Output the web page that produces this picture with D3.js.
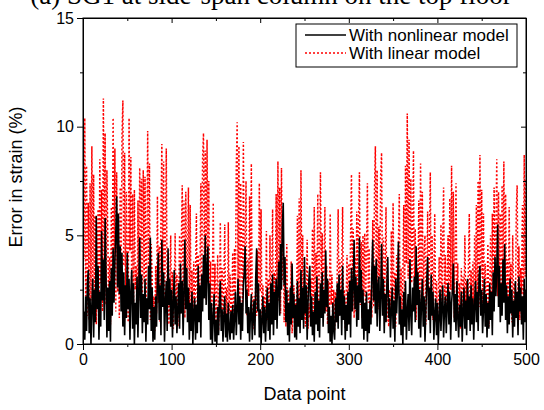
<!DOCTYPE html>
<html><head><meta charset="utf-8">
<script src="https://cdn.jsdelivr.net/npm/d3@7"></script>
<style>body{margin:0;background:#fff}svg{display:block}</style>
</head><body>
<script>
const titleText = "(a) SG1 at side-span column on the top floor";
const seriesNames = ["With nonlinear model", "With linear model"];
const xTicks = [0, 100, 200, 300, 400, 500];
const yTicks = [0, 5, 10, 15];

const nonlinear = [
0.1,1.5,0.2,2.2,0.6,2.8,3.4,0.5,2.1,0.0,
1.8,3.0,0.3,2.5,1.0,5.9,1.6,3.6,0.2,2.4,
0.8,5.2,2.0,3.9,1.1,5.8,3.1,0.3,2.6,0.6,
2.9,0.1,3.5,1.3,4.4,1.9,3.8,5.1,6.8,2.6,
6.0,2.3,4.5,1.5,4.2,0.8,3.3,0.4,2.7,1.2,
4.2,1.6,3.0,0.2,2.4,3.4,0.7,2.8,0.0,1.9,
0.9,3.1,0.3,2.5,4.9,1.2,3.2,0.5,2.3,1.0,
3.0,0.1,2.1,0.9,3.6,1.6,4.9,0.6,2.6,0.1,
1.7,0.2,2.2,0.8,3.0,4.2,1.1,2.7,0.4,4.8,
1.7,3.3,0.1,1.9,2.9,0.6,4.4,1.8,3.0,0.8,
2.5,0.3,1.9,3.4,0.9,2.2,0.5,1.6,2.8,0.7,
3.7,1.4,2.9,0.4,2.4,4.8,1.6,3.5,1.0,2.6,
0.2,1.9,0.6,2.4,0.0,1.5,2.1,0.2,1.8,0.5,
3.6,1.0,2.7,0.3,3.2,1.5,4.1,2.1,5.0,1.8,
3.4,4.5,1.1,2.8,0.2,1.9,0.0,1.2,2.3,0.1,
1.1,0.0,1.7,0.4,2.0,2.9,0.6,1.6,0.1,1.3,
2.2,0.3,1.4,0.1,1.9,0.7,0.2,1.5,0.5,1.8,
0.2,1.2,2.4,0.4,1.6,3.0,0.9,2.2,0.2,1.9,
0.6,2.7,3.3,4.5,1.4,2.5,0.5,1.7,0.1,1.4,
2.3,0.2,1.2,2.0,0.4,3.1,4.4,1.5,2.8,0.3,
1.6,0.0,1.1,2.2,0.5,1.7,0.1,1.4,2.6,0.6,
1.9,0.2,2.8,0.9,3.2,0.4,2.4,1.1,3.0,0.7,
2.6,3.8,1.3,4.6,2.5,5.4,6.5,2.7,4.0,1.0,
2.5,0.4,1.9,0.1,2.6,0.9,3.7,1.2,2.3,0.3,
1.8,0.2,2.9,0.8,2.1,0.5,3.4,1.1,2.6,0.7,
4.0,1.4,2.7,0.2,1.9,3.0,3.6,0.8,2.2,0.4,
1.5,0.1,2.4,0.9,3.1,0.6,2.0,0.3,2.8,1.2,
3.3,0.8,2.5,1.4,4.3,1.7,3.0,0.5,1.7,0.1,
1.3,0.0,1.9,0.6,0.2,2.1,1.0,2.8,0.7,3.2,
1.3,2.5,0.4,3.6,1.1,2.2,0.2,1.8,0.6,2.4,
0.9,2.9,0.3,3.5,1.5,2.6,4.8,1.6,3.1,0.8,
2.7,1.1,4.9,1.9,3.4,0.7,2.5,0.2,1.9,0.6,
2.4,0.1,1.6,0.5,2.0,0.9,3.3,4.8,2.0,3.6,
1.4,3.9,0.8,2.7,3.1,0.6,2.2,4.6,1.3,3.0,
0.5,2.3,1.0,2.8,4.0,1.2,2.1,0.3,1.5,2.6,
0.7,2.0,0.1,3.0,1.4,2.6,4.7,0.9,2.2,0.4,
1.6,0.0,2.4,0.8,2.9,0.2,1.5,2.3,0.6,3.9,
1.3,0.4,2.6,1.5,3.1,1.0,4.5,1.8,3.3,0.7,
2.5,0.3,1.8,3.0,0.8,2.2,0.1,1.6,2.9,4.0,
1.1,2.6,0.5,3.2,1.3,2.4,0.2,1.4,2.1,0.4,
1.9,0.0,1.2,2.5,0.6,1.8,2.7,0.3,1.6,2.2,
0.5,1.7,2.8,0.9,2.4,0.2,1.9,2.5,3.7,1.0,
2.3,0.6,2.9,1.2,0.3,1.8,0.8,2.4,0.1,1.5,
2.6,0.7,2.0,0.4,3.0,1.1,2.2,0.6,2.7,0.9,
2.1,0.2,1.8,2.9,1.0,2.4,0.6,3.1,3.6,1.3,
2.5,0.5,1.6,3.0,0.8,2.3,0.3,1.9,0.7,2.8,
1.1,2.4,0.4,3.3,1.5,4.0,2.2,3.4,5.5,1.7,
3.6,1.0,2.8,1.3,3.9,1.9,4.6,1.1,2.7,0.5,
2.2,0.9,3.0,1.4,2.5,0.3,2.0,0.8,2.9,1.2,
2.4,0.4,3.1,1.5,2.6,0.9,2.2,0.2,3.0,1.0,
2.5];

const linear = [
11.5,3.9,10.4,2.2,8.2,1.3,6.5,1.1,7.4,2.0,
9.1,2.6,7.8,1.4,5.9,0.9,3.4,6.2,1.7,8.5,
2.8,7.1,1.5,11.3,3.9,9.7,1.8,8.0,4.9,1.3,
4.0,0.9,6.3,2.0,10.4,3.1,9.0,1.5,7.9,2.4,
4.4,1.2,7.2,2.6,9.6,11.2,3.6,8.8,2.0,7.0,
2.9,1.0,10.4,4.3,8.6,1.9,6.9,1.2,7.1,2.5,
3.6,1.0,6.6,2.0,8.1,3.2,7.6,1.6,8.0,2.8,
7.7,1.3,4.3,9.8,3.0,8.3,1.1,4.6,3.1,0.7,
2.2,0.6,3.6,1.4,6.8,1.9,4.5,1.0,6.1,9.2,
2.9,8.4,1.6,4.7,9.0,2.2,3.6,0.9,2.7,5.0,
1.2,3.3,0.7,2.4,5.1,1.5,3.2,0.8,2.1,5.0,
1.4,4.6,7.3,1.9,6.6,1.2,7.0,2.6,4.0,7.2,
1.6,6.4,1.0,3.4,0.8,3.8,1.4,2.9,6.0,1.7,
4.1,1.0,3.2,7.4,2.0,8.6,9.7,2.7,8.9,2.0,
9.4,3.1,7.5,1.2,3.8,0.8,2.6,6.5,1.4,3.7,
0.9,2.4,4.1,0.6,1.9,5.6,1.2,3.5,0.8,2.9,
5.5,1.0,2.6,0.7,5.6,1.4,3.2,0.6,2.0,4.2,
1.0,4.4,2.0,8.1,10.2,2.8,9.1,1.8,7.4,4.2,
1.5,9.3,3.0,4.5,7.5,1.3,3.9,2.2,6.8,2.5,
8.3,1.6,0.7,2.2,1.0,3.3,1.3,4.3,1.6,7.4,
2.4,6.2,0.9,2.7,1.2,2.2,0.8,5.2,1.1,3.0,
0.9,5.0,1.6,2.8,6.2,1.1,3.3,1.8,6.9,2.4,
8.4,2.0,7.2,1.4,8.1,2.9,4.5,1.0,3.3,0.8,
4.6,1.1,2.5,0.6,1.5,3.8,0.5,1.4,2.7,0.9,
2.1,1.0,5.9,1.7,6.7,1.3,8.0,2.6,5.0,1.1,
3.6,0.8,2.2,4.8,0.7,1.8,1.2,3.0,1.0,5.3,
1.5,6.3,1.2,4.2,2.2,6.9,1.4,4.0,7.9,2.5,
5.1,1.2,3.4,6.3,1.5,3.6,0.9,2.9,1.3,6.0,
1.8,3.2,0.7,2.5,0.6,2.4,1.0,3.5,6.2,1.3,
3.9,1.9,3.1,6.3,1.1,2.5,0.7,1.9,4.1,0.9,
3.7,1.6,4.9,7.8,2.0,5.3,1.2,4.0,1.5,6.1,
2.7,5.5,7.9,1.8,4.7,1.2,5.0,2.2,5.1,1.4,
4.3,7.4,1.9,4.4,0.9,2.5,1.2,5.7,1.7,7.1,
9.1,2.6,8.0,1.6,5.4,3.0,7.8,8.8,2.1,4.9,
1.3,3.6,6.3,1.0,3.0,0.8,2.5,1.2,5.2,1.8,
6.5,1.4,3.3,0.8,4.1,2.1,4.6,6.9,1.2,3.5,
1.6,3.0,6.4,1.4,8.2,3.7,10.6,3.0,9.4,2.2,
7.6,2.8,4.8,8.9,1.6,5.3,1.1,3.5,2.3,6.6,
1.3,8.3,2.5,7.0,1.7,4.3,5.0,0.9,3.1,6.1,
1.8,4.2,7.9,1.4,5.0,1.1,3.3,6.0,1.0,2.9,
0.8,2.1,4.0,1.0,5.5,1.6,4.8,7.2,1.9,4.1,
1.3,2.7,5.0,1.5,6.7,2.5,8.2,2.3,7.0,1.2,
4.3,7.4,1.8,3.7,0.9,2.8,0.7,3.5,0.9,3.1,
1.4,5.0,1.7,2.9,1.1,3.6,6.0,1.3,3.4,2.0,
3.8,1.0,5.0,2.1,6.4,2.4,7.5,1.7,8.7,3.2,
7.1,1.4,6.0,1.9,3.7,0.9,2.3,4.6,0.8,2.2,
5.0,1.2,6.0,1.8,7.2,2.5,5.0,8.5,2.2,7.0,
2.8,6.0,1.5,7.3,3.0,8.4,2.0,6.9,1.4,3.9,
1.6,6.3,2.4,3.7,1.0,5.0,2.0,2.8,1.2,6.1,
7.3,1.9,4.5,1.1,3.5,2.3,6.4,1.6,8.7,3.1,
7.6];

const W = 544, H = 410;
const m = {left: 83, right: 18, top: 18, bottom: 66};
const svg = d3.select("body").append("svg").attr("width", W).attr("height", H);
const x = d3.scaleLinear().domain([0, 500]).range([m.left, W - m.right]);
const y = d3.scaleLinear().domain([0, 15]).range([H - m.bottom, m.top]);
const font = "'Liberation Sans', Arial, sans-serif";

svg.append("text").attr("x", 271).attr("y", 4).attr("text-anchor", "middle")
  .attr("font-family", "'Liberation Serif', 'Times New Roman', serif").attr("font-size", 27)
  .attr("fill", "#000").text(titleText);

svg.append("clipPath").attr("id", "clip").append("rect")
  .attr("x", m.left).attr("y", m.top).attr("width", W - m.left - m.right).attr("height", H - m.top - m.bottom);

const line = d3.line().x((d, i) => x(i)).y(d => y(d));
const g = svg.append("g").attr("clip-path", "url(#clip)");
g.append("path").datum(linear).attr("d", line).attr("fill", "none")
  .attr("stroke", "#ff0000").attr("stroke-width", 1.5).attr("stroke-dasharray", "2,2");
g.append("path").datum(nonlinear).attr("d", line).attr("fill", "none")
  .attr("stroke", "#000").attr("stroke-width", 1.6);

svg.append("rect").attr("x", m.left).attr("y", m.top).attr("width", W - m.left - m.right)
  .attr("height", H - m.top - m.bottom).attr("fill", "none").attr("stroke", "#000").attr("stroke-width", 1);

const xMinor = d3.range(50, 500, 100);
const yMinor = [2.5, 7.5, 12.5];

const xAx = svg.append("g").attr("transform", `translate(0,${H - m.bottom})`)
  .call(d3.axisBottom(x).tickValues(xTicks).tickSize(6).tickPadding(4).tickFormat(d3.format("d")));
xAx.append("g").call(d3.axisBottom(x).tickValues(xMinor).tickSize(3).tickFormat(""));
const yAx = svg.append("g").attr("transform", `translate(${m.left},0)`)
  .call(d3.axisLeft(y).tickValues(yTicks).tickSize(6).tickPadding(3).tickFormat(d3.format("d")));
yAx.append("g").call(d3.axisLeft(y).tickValues(yMinor).tickSize(3).tickFormat(""));
const tAx = svg.append("g").attr("transform", `translate(0,${m.top})`)
  .call(d3.axisBottom(x).tickValues(xTicks).tickSize(5).tickFormat(""));
tAx.append("g").call(d3.axisBottom(x).tickValues(xMinor).tickSize(3).tickFormat(""));
const rAx = svg.append("g").attr("transform", `translate(${W - m.right},0)`)
  .call(d3.axisLeft(y).tickValues(yTicks).tickSize(5).tickFormat(""));
rAx.append("g").call(d3.axisLeft(y).tickValues(yMinor).tickSize(3).tickFormat(""));

svg.selectAll(".domain").attr("stroke", "#000");
svg.selectAll(".tick line").attr("stroke", "#000");
svg.selectAll(".tick text").attr("font-family", font).attr("font-size", 16).attr("fill", "#000");

svg.append("text").attr("x", (m.left + W - m.right) / 2).attr("y", 400).attr("text-anchor", "middle")
  .attr("font-family", font).attr("font-size", 18).attr("fill", "#000").text("Data point");
svg.append("text").attr("transform", `translate(22,177) rotate(-90)`)
  .attr("text-anchor", "middle").attr("font-family", font).attr("font-size", 18).attr("fill", "#000")
  .text("Error in strain (%)");

const lg = svg.append("g");
lg.append("rect").attr("x", 296).attr("y", 24).attr("width", 221).attr("height", 43)
  .attr("fill", "#fff").attr("stroke", "#000").attr("stroke-width", 1);
const rows = [{name: seriesNames[0], color: "#000", dash: null}, {name: seriesNames[1], color: "#ff0000", dash: "2,2"}];
rows.forEach((r, i) => {
  const yy = 35 + i * 18;
  lg.append("line").attr("x1", 305).attr("x2", 346).attr("y1", yy).attr("y2", yy)
    .attr("stroke", r.color).attr("stroke-width", 1.5).attr("stroke-dasharray", r.dash);
  lg.append("text").attr("x", 349).attr("y", yy + 6).attr("font-family", font).attr("font-size", 17)
    .attr("fill", "#000").text(r.name);
});
</script>
</body></html>
